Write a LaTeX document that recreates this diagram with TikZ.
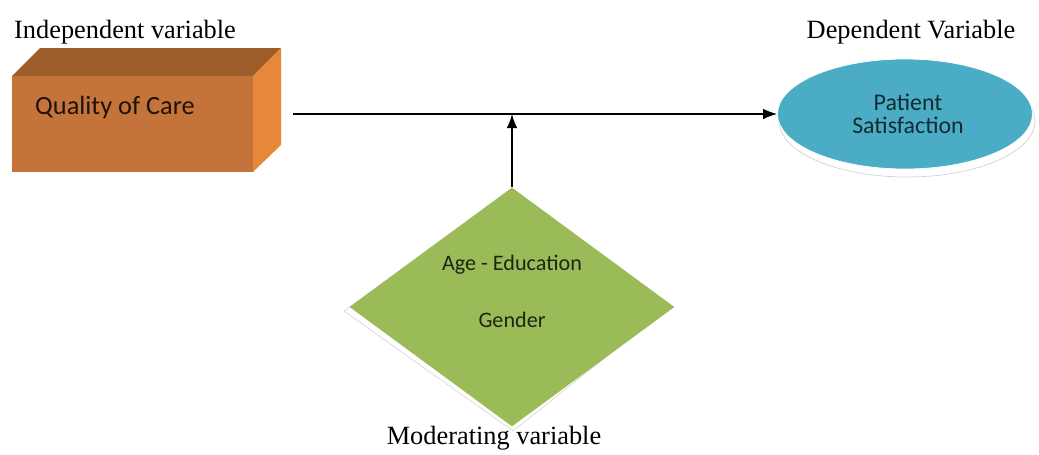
\documentclass[tikz,border=0pt]{standalone}
\usepackage{fontspec}
\setmainfont{Liberation Serif}
\newfontfamily\cali{Carlito}
\usepackage{xcolor}
\usetikzlibrary{shapes.geometric,arrows.meta}
\definecolor{boxfront}{HTML}{C4743A}
\definecolor{boxtop}{HTML}{9C5D2B}
\definecolor{boxside}{HTML}{E6873A}
\definecolor{psblue}{HTML}{4BACC6}
\definecolor{modgreen}{HTML}{9BBB59}

\begin{document}
\begin{tikzpicture}[x=0.02cm,y=-0.02cm,
  lbl/.style={font=\fontsize{15}{18}\selectfont},
  conn/.style={line width=0.8pt,-{Latex[length=8pt,width=6pt]}}]
\useasboundingbox (0,0) rectangle (1039,454);
% independent variable box
\fill[boxfront] (12,76) rectangle (253,172);
\fill[boxtop] (12,76)--(40,48)--(281,48)--(253,76)--cycle;
\fill[boxside] (253,76)--(281,48)--(281,145)--(253,172)--cycle;
\node[font=\cali\fontsize{15}{18}\selectfont,text=black!80!boxtop] (qoc) at (115,107) {Quality of Care};
\node[lbl,anchor=west] (indep) at (8,32) {Independent variable};
% dependent variable ellipse
\draw[gray!35,fill=white] (907,121) ellipse (128 and 56);
\node[ellipse,fill=psblue,draw=white,minimum width=5.1cm,minimum height=2.2cm] (ps) at (905,114) {};
\node[font=\cali\fontsize{13.6}{12.8}\selectfont,text=black!75!psblue,align=center] (pstxt) at (908,114) {Patient\\Satisfaction};
\node[lbl] (dep) at (911,32) {Dependent Variable};
% moderating variable diamond
\draw[gray!30,fill=white] (508,191)--(344,311)--(513,431)--(669,307)--cycle;
\node[diamond,fill=modgreen,inner sep=0pt,minimum width=6.5cm,minimum height=4.78cm] (mod) at (512,307) {};
\node[font=\cali\fontsize{12.6}{15}\selectfont,text=black!80!modgreen] (age) at (512,265) {Age - Education};
\node[font=\cali\fontsize{12.6}{15}\selectfont,text=black!80!modgreen] (gen) at (512,320) {Gender};
\node[lbl] (modlbl) at (494,438) {Moderating variable};
% connectors
\coordinate (qstart) at (293,114);
\coordinate (join) at (mod.north |- ps.west);
\draw[conn] (qstart)--(ps.west);
\draw[conn] (mod.north)--(join);
\end{tikzpicture}
\end{document}
